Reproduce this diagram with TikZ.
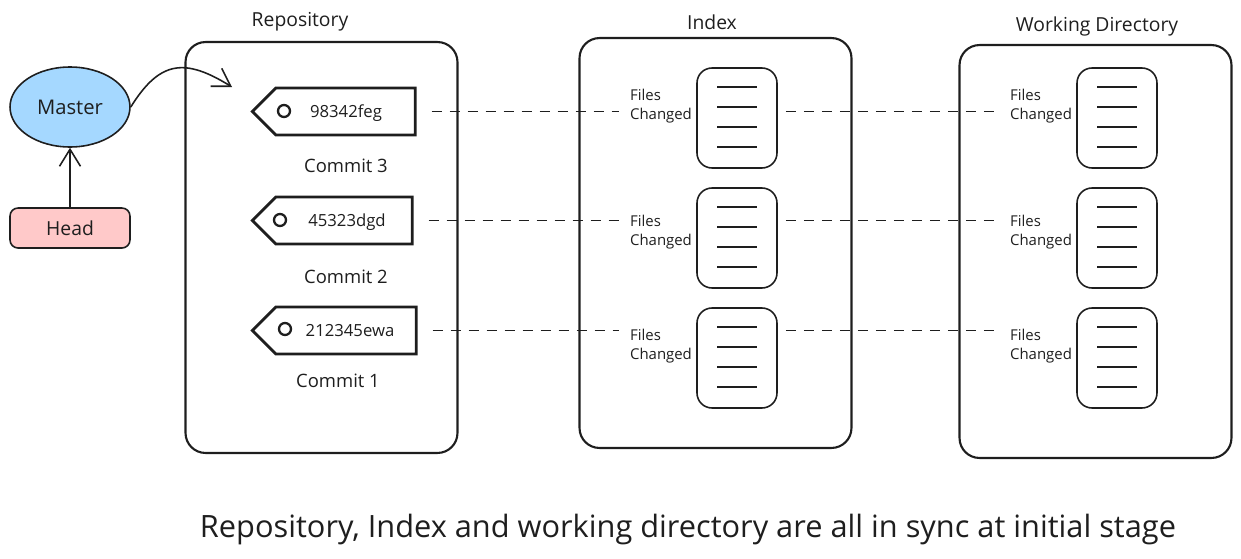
\documentclass[tikz,border=0pt]{standalone}
\usepackage{fontspec}
\setmainfont{Open Sans}
\usetikzlibrary{arrows.meta,shapes.symbols,shapes.geometric,positioning}
\definecolor{ink}{HTML}{1E1E1E}
\definecolor{masterblue}{HTML}{A5D8FF}
\definecolor{headpink}{HTML}{FFC9C9}
\tikzset{
  area/.style={draw=ink,line width=1.2pt,rounded corners=0.4cm,minimum width=5.44cm},
  title/.style={text=ink,font=\fontsize{11}{13}\selectfont},
  tagbox/.style={draw=ink,line width=1.6pt,shape=signal,signal to=west,
    signal pointer angle=90,minimum height=0.94cm,inner sep=0pt},
  hash/.style={text=ink,font=\fontsize{9.5}{11}\selectfont,inner sep=1pt},
  commit/.style={text=ink,font=\fontsize{10.5}{12}\selectfont},
  fileicon/.style={draw=ink,line width=0.9pt,rounded corners=0.3cm,
    minimum width=1.6cm,minimum height=2cm},
  fileslabel/.style={text=ink,font=\fontsize{8.5}{11}\selectfont,align=left,inner sep=6pt},
  sync/.style={draw=ink,line width=0.7pt,dash pattern=on 0.2cm off 0.16cm},
  link/.style={draw=ink,line width=0.9pt,-{Straight Barb[length=0.34cm,width=0.42cm]}},
}
\begin{document}
\begin{tikzpicture}[x=0.02cm,y=-0.02cm]
  \useasboundingbox (0,0) rectangle (1241,558);
  % Areas
  \node[area,minimum height=8.22cm] (repo) at (321.5,247.5) {};
  \node[area,minimum height=8.2cm] (index) at (715.5,243) {};
  \node[area,minimum height=8.26cm] (work) at (1095.5,251.5) {};
  \node[title] (repotitle) at (300,22) {Repository};
  \node[title] (indextitle) at (712,22) {Index};
  \node[title] (worktitle) at (1097,26) {Working Directory};
  % Master and Head
  \node[draw=ink,line width=0.9pt,fill=masterblue,ellipse,minimum width=2.4cm,
    minimum height=1.6cm,text=ink,font=\fontsize{11.5}{13}\selectfont] (master) at (70,107) {Master};
  \node[draw=ink,line width=0.9pt,fill=headpink,rounded corners=0.16cm,minimum width=2.4cm,
    minimum height=0.8cm,text=ink,font=\fontsize{11}{13}\selectfont] (head) at (70,228) {Head};
  \draw[link] (head) -- (master);
  \coordinate (mtip) at (232,87);
  \draw[link] (master.east) .. controls (160,60) and (185,58) .. (mtip);
  % Commits
  \node[tagbox,minimum width=3.26cm] (c3) at (345.5,111.5) {};
  \node[tagbox,minimum width=3.2cm] (c2) at (344,220.5) {};
  \node[tagbox,minimum width=3.28cm] (c1) at (346,330.5) {};
  \draw[ink,line width=1.3pt] (284,111) circle (6);
  \draw[ink,line width=1.3pt] (280,220) circle (6);
  \draw[ink,line width=1.3pt] (285,329) circle (6);
  \node[hash] (h3) at (346,113) {98342feg};
  \node[hash] (h2) at (347,222) {45323dgd};
  \node[hash] (h1) at (350,331) {212345ewa};
  \node[commit] (l3) at (346,166) {Commit 3};
  \node[commit] (l2) at (346,277) {Commit 2};
  \node[commit] (l1) at (338,381) {Commit 1};
  % Files changed
  \foreach \n/\y/\fy in {3/118/106,2/238/232,1/358/346}{
    \node[fileicon] (ix\n) at (737,\y) {};
    \node[fileicon] (wd\n) at (1117,\y) {};
    \foreach \k in {-31,-11,9,29}{
      \draw[ink,line width=0.6pt] ([shift={(-20,\k)}]ix\n.center) -- ([shift={(20,\k)}]ix\n.center);
      \draw[ink,line width=0.6pt] ([shift={(-20,\k)}]wd\n.center) -- ([shift={(20,\k)}]wd\n.center);
    }
    \node[fileslabel] (fx\n) at (661,\fy) {Files\\Changed};
    \node[fileslabel] (fw\n) at (1041,\fy) {Files\\Changed};
  }
  % Sync lines
  \draw[sync,shorten <=0.3cm] (c3.east) -- (c3.east -| fx3.west);
  \draw[sync,shorten <=0.3cm] (c2.east) -- (c2.east -| fx2.west);
  \draw[sync,shorten <=0.3cm] (c1.east) -- (c1.east -| fx1.west);
  \draw[sync,shorten <=0.16cm] (c3.east -| ix3.east) -- (c3.east -| fw3.west);
  \draw[sync,shorten <=0.16cm] (c2.east -| ix2.east) -- (c2.east -| fw2.west);
  \draw[sync,shorten <=0.16cm] (c1.east -| ix1.east) -- (c1.east -| fw1.west);
  % Caption
  \node[text=ink,font=\fontsize{17.5}{20}\selectfont] (caption) at (688,530)
    {Repository, Index and working directory are all in sync at initial stage};
\end{tikzpicture}
\end{document}
